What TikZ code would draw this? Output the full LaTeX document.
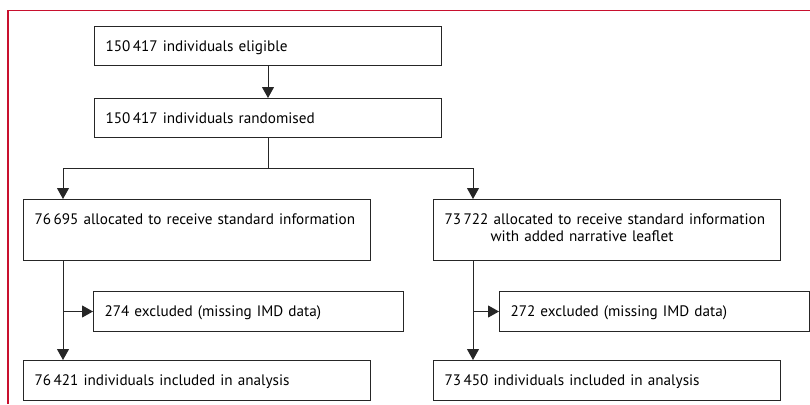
\documentclass[tikz,border=0pt]{standalone}
\usepackage{fontspec}
\setmainfont{PT Sans}
\usetikzlibrary{positioning}
\usetikzlibrary{arrows.meta}

\begin{document}
\begin{tikzpicture}[x=1pt,y=-1pt,->,>={Triangle[length=11pt,width=12pt]},
	line width=1pt,draw=black!85,
	box/.style={draw,rectangle,anchor=north west,align=left,inner xsep=11pt,
		inner ysep=0pt,text height=25pt,font=\fontsize{15.2}{17}\selectfont},
	wide box/.style={box,text width=325pt},
	excl box/.style={box,text width=288pt,text depth=15pt}]
	
	\definecolor{frame}{RGB}{200,16,46}
	\useasboundingbox (0,0) rectangle (810,404);
	\draw[-,frame,line width=1.2pt] (8,404) -- (8,10.5) -- (810,10.5);
	
	\node[wide box,text depth=14pt] (elig) at (94,26) {150\,417 individuals eligible};
	\node[wide box,text depth=14pt] (rand) [below right=32pt and 0pt of elig.south west] {150\,417 individuals randomised};
	\node[wide box,text depth=36pt] (std) [below right=61pt and -71pt of rand.south west] {76\,695 allocated to receive standard information};
	\node[wide box,text depth=36pt] (narr) [right=62pt of std.north east,anchor=north west] {73\,722 allocated to receive standard information\\\hspace*{46pt}with added narrative leaflet};
	\node[excl box] (exstd) [below right=30pt and 70pt of std.south west] {274 excluded (missing IMD data)};
	\node[excl box] (exnarr) [below right=30pt and 66pt of narr.south west] {272 excluded (missing IMD data)};
	\node[wide box,text depth=15pt] (instd) [below right=99pt and 0pt of std.south west] {76\,421 individuals included in analysis};
	\node[wide box,text depth=15pt] (innarr) [below right=99pt and 0pt of narr.south west] {73\,450 individuals included in analysis};
	
	\coordinate (split) at ([yshift=-30pt]rand.south);
	\coordinate (lin) at ([xshift=40pt]std.north west);
	\coordinate (rin) at ([xshift=40pt]narr.north west);
	
	\draw (elig) -- (rand);
	\draw[-] (rand) -- (split);
	\draw (split) -| (lin);
	\draw (split) -| (rin);
	\draw (lin |- std.south) -- (lin |- instd.north);
	\draw (rin |- narr.south) -- (rin |- innarr.north);
	\draw (lin |- exstd.west) -- (exstd);
	\draw (rin |- exnarr.west) -- (exnarr);
\end{tikzpicture}
\end{document}
